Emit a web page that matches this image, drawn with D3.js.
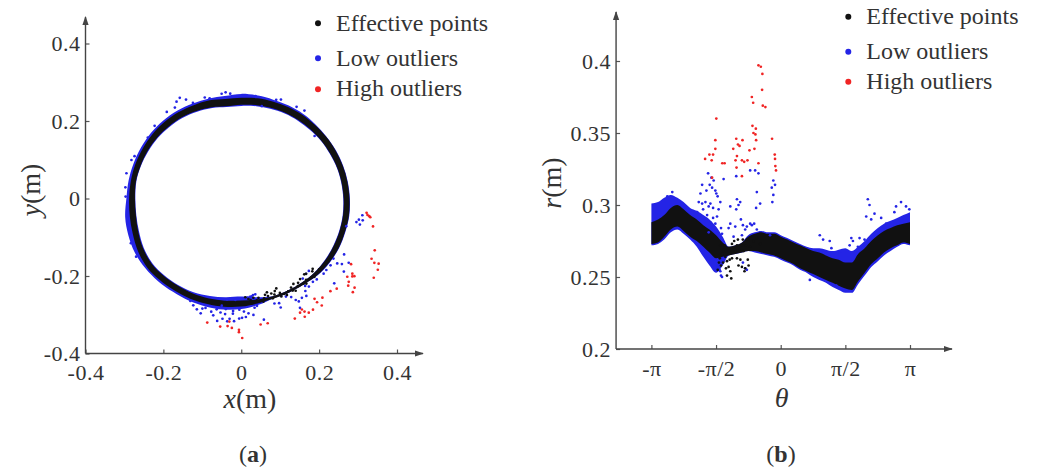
<!DOCTYPE html>
<html>
<head>
<meta charset="utf-8">
<script src="https://cdn.jsdelivr.net/npm/d3@7"></script>
<style>
  html, body { margin: 0; padding: 0; background: #fff; }
  svg { display: block; }
  text { font-family: "Liberation Serif", "Times New Roman", serif; fill: #333; }
</style>
</head>
<body>
<svg id="chart" width="1042" height="470"></svg>
<script>
// ---- Scan radius profile r(theta): sample angles (rad) ----
const bandTheta = [-3.1416, -2.98, -2.83, -2.67, -2.51, -2.36, -2.20, -2.04, -1.88, -1.73,
                   -1.57, -1.41, -1.26, -1.10, -0.94, -0.79, -0.63, -0.47, -0.31, -0.16,
                    0.00, 0.16, 0.31, 0.47, 0.63, 0.79, 0.94, 1.10, 1.26, 1.41,
                    1.57, 1.73, 1.88, 2.04, 2.20, 2.36, 2.51, 2.67, 2.83, 2.98, 3.1416];

// Effective points: lower / upper edge of the dense band (m)
const effLo = [0.273, 0.274, 0.278, 0.283, 0.285, 0.282, 0.278, 0.275, 0.271, 0.267,
               0.263, 0.264, 0.265, 0.266, 0.267, 0.268, 0.268, 0.267, 0.266, 0.265,
               0.263, 0.261, 0.259, 0.256, 0.254, 0.252, 0.250, 0.248, 0.246, 0.244,
               0.242, 0.241, 0.247, 0.253, 0.259, 0.263, 0.267, 0.270, 0.272, 0.274, 0.273];
const effHi = [0.288, 0.290, 0.293, 0.298, 0.300, 0.297, 0.293, 0.290, 0.286, 0.283,
               0.279, 0.274, 0.271, 0.272, 0.274, 0.278, 0.280, 0.281, 0.280, 0.280,
               0.278, 0.276, 0.274, 0.272, 0.270, 0.268, 0.267, 0.265, 0.263, 0.262,
               0.260, 0.260, 0.266, 0.270, 0.275, 0.279, 0.282, 0.284, 0.286, 0.287, 0.288];

// Low outliers: extent of the dense fringe around the band (m)
const lowLo = [0.272, 0.273, 0.276, 0.281, 0.283, 0.280, 0.276, 0.271, 0.264, 0.258,
               0.253, 0.258, 0.265, 0.266, 0.267, 0.268, 0.267, 0.266, 0.265, 0.264,
               0.262, 0.260, 0.258, 0.255, 0.253, 0.250, 0.248, 0.246, 0.243, 0.241,
               0.239, 0.239, 0.245, 0.251, 0.257, 0.261, 0.265, 0.268, 0.271, 0.273, 0.272];
const lowHi = [0.301, 0.302, 0.305, 0.307, 0.305, 0.302, 0.298, 0.296, 0.293, 0.290,
               0.285, 0.278, 0.271, 0.272, 0.274, 0.279, 0.281, 0.282, 0.281, 0.281,
               0.279, 0.277, 0.275, 0.273, 0.271, 0.270, 0.270, 0.269, 0.268, 0.269,
               0.270, 0.268, 0.271, 0.275, 0.280, 0.284, 0.287, 0.289, 0.291, 0.293, 0.295];

// Isolated effective points in the sparse stretch: [theta, r]
const effScatter = [
  [-1.53, 0.255], [-1.50, 0.260], [-1.467, 0.272], [-1.45, 0.258], [-1.42, 0.266],
  [-1.387, 0.269], [-1.36, 0.272], [-1.346, 0.264], [-1.305, 0.261], [-1.305, 0.251],
  [-1.266, 0.257], [-1.266, 0.270], [-1.225, 0.254], [-1.201, 0.249], [-1.184, 0.263],
  [-1.184, 0.273], [-1.15, 0.270], [-1.104, 0.268], [-1.063, 0.263], [-1.063, 0.272],
  [-1.025, 0.258], [-1.00, 0.269], [-0.942, 0.257], [-0.942, 0.272], [-0.90, 0.268],
  [-0.880, 0.254], [-0.863, 0.256], [-0.85, 0.272], [-0.822, 0.276], [-0.742, 0.271],
  [-0.662, 0.275], [-0.580, 0.277], [-0.500, 0.273], [-1.48, 0.263], [-1.40, 0.260],
  [-1.33, 0.256], [-1.24, 0.262], [-1.13, 0.275], [-1.04, 0.276], [-0.98, 0.262],
  [-0.92, 0.276], [-0.80, 0.262], [-0.78, 0.258]
];

// Isolated low outliers: [theta, r]
const lowOutliers = [
  [-2.755, 0.306], [-2.634, 0.309],
  [-2.030, 0.295], [-1.991, 0.302], [-1.950, 0.308], [-1.909, 0.314], [-1.909, 0.301],
  [-1.885, 0.297], [-1.829, 0.302], [-1.805, 0.310], [-1.788, 0.293], [-1.764, 0.322],
  [-1.750, 0.299], [-1.750, 0.281], [-1.725, 0.314], [-1.709, 0.301], [-1.709, 0.288],
  [-1.709, 0.263], [-1.684, 0.319], [-1.667, 0.312], [-1.643, 0.298], [-1.643, 0.291],
  [-1.629, 0.317], [-1.629, 0.262], [-1.588, 0.310], [-1.588, 0.287], [-1.564, 0.308],
  [-1.547, 0.292], [-1.532, 0.306], [-1.532, 0.257], [-1.508, 0.297], [-1.508, 0.256],
  [-1.484, 0.255], [-1.467, 0.302], [-1.467, 0.254], [-1.450, 0.284], [-1.450, 0.251],
  [-1.426, 0.280], [-1.426, 0.250], [-1.387, 0.318], [-1.266, 0.284], [-1.225, 0.287],
  [-1.225, 0.299], [-1.145, 0.278], [-1.104, 0.285], [-1.080, 0.320], [-1.080, 0.297],
  [-1.063, 0.304], [-1.025, 0.300], [-0.984, 0.302], [-0.967, 0.290], [-0.942, 0.279],
  [-0.918, 0.286], [-0.918, 0.260], [-0.863, 0.283], [-0.863, 0.256], [-0.822, 0.285],
  [-0.822, 0.255], [-0.742, 0.324], [-0.742, 0.287], [-0.701, 0.286], [-0.645, 0.287],
  [-0.621, 0.324], [-0.597, 0.298], [-0.580, 0.309], [-0.580, 0.283], [-0.541, 0.322],
  [-0.500, 0.301], [-0.259, 0.279], [-0.217, 0.312], [-0.203, 0.302], [-0.179, 0.317],
  [-0.179, 0.307], [-0.138, 0.314],
  [0.708, 0.248], [0.950, 0.279], [1.030, 0.276], [1.191, 0.275], [1.232, 0.270],
  [1.353, 0.244], [1.433, 0.267], [1.675, 0.272], [1.716, 0.277], [1.755, 0.275],
  [1.875, 0.271], [1.916, 0.277], [2.037, 0.276], [2.078, 0.292], [2.117, 0.304],
  [2.158, 0.300], [2.199, 0.290], [2.279, 0.294], [2.441, 0.291], [2.561, 0.287],
  [2.762, 0.295], [2.803, 0.299], [2.924, 0.302], [3.045, 0.299], [3.125, 0.297]
];

// High outliers: [theta, r]
const highOutliers = [
  [-0.541, 0.397], [-0.483, 0.396], [-0.445, 0.391], [-0.452, 0.380], [-0.701, 0.375],
  [-0.669, 0.371], [-0.435, 0.369], [-0.372, 0.368], [-1.564, 0.360], [-0.686, 0.355],
  [-0.604, 0.353], [-0.662, 0.350], [-0.614, 0.349], [-1.080, 0.346], [-0.928, 0.345],
  [-1.588, 0.345], [-0.597, 0.345], [-0.210, 0.346], [-1.039, 0.342], [-1.000, 0.341],
  [-1.588, 0.339], [-1.153, 0.339], [-0.638, 0.339], [-0.759, 0.338], [-1.643, 0.335],
  [-1.733, 0.335], [-0.145, 0.335], [-1.063, 0.334], [-1.837, 0.332], [-1.677, 0.331],
  [-1.097, 0.331], [-0.942, 0.331], [-0.138, 0.332], [-1.419, 0.329], [-1.363, 0.329],
  [-0.887, 0.330], [-0.807, 0.331], [-0.541, 0.329], [-1.073, 0.326], [-0.130, 0.327],
  [-0.942, 0.320], [-1.667, 0.319], [-0.114, 0.324]
];

// Axis ticks and labels
const aTicks = [-0.4, -0.2, 0, 0.2, 0.4];
const aTickLabels = ["-0.4", "-0.2", "0", "0.2", "0.4"];
const bTicksX = [-Math.PI, -Math.PI / 2, 0, Math.PI / 2, Math.PI];
const bTickLabelsX = ["-\u03C0", "-\u03C0/2", "0", "\u03C0/2", "\u03C0"];
const bTicksY = [0.2, 0.25, 0.3, 0.35, 0.4];
const bTickLabelsY = ["0.2", "0.25", "0.3", "0.35", "0.4"];

const legendItems = ["Effective points", "Low outliers", "High outliers"];
const COLORS = { eff: "#111111", low: "#2424e6", high: "#f02424" };
const legendColors = [COLORS.eff, COLORS.low, COLORS.high];

// ---- drawing ----
const svg = d3.select("#chart");
const defs = svg.append("defs");
defs.append("marker").attr("id", "arrow")
  .attr("viewBox", "0 0 10 10").attr("refX", 9).attr("refY", 5)
  .attr("markerWidth", 9).attr("markerHeight", 9).attr("markerUnits", "userSpaceOnUse")
  .attr("orient", "auto")
  .append("path").attr("d", "M0,1.5 L10,5 L0,8.5 Z").attr("fill", "#444");

const rows = bandTheta.map((t, i) => ({
  t, lo: effLo[i], hi: effHi[i], blo: lowLo[i], bhi: lowHi[i]
}));

// Panel (a) scales: Cartesian x, y (m)
const ax = d3.scaleLinear().domain([-0.4, 0.4]).range([85.5, 397]);
const ay = d3.scaleLinear().domain([-0.4, 0.4]).range([353.5, 43.5]);
// Panel (b) scales: theta (rad), r (m)
const bx = d3.scaleLinear().domain([-Math.PI, Math.PI]).range([651.4, 910]);
const by = d3.scaleLinear().domain([0.2, 0.4]).range([349, 61]);

function drawAxes(g, xs, ys, xTicks, xLabels, yTicks, yLabels, xEnd, yEnd, x0, y0) {
  const ox = xs(x0), oy = ys(y0);
  const xa = d3.axisBottom(xs).tickValues(xTicks)
    .tickFormat((d, i) => xLabels[i]).tickSizeInner(-4).tickSizeOuter(0).tickPadding(11);
  const ya = d3.axisLeft(ys).tickValues(yTicks)
    .tickFormat((d, i) => yLabels[i]).tickSizeInner(-4).tickSizeOuter(0).tickPadding(5);
  const gx = g.append("g").attr("transform", `translate(0,${oy})`).call(xa);
  const gy = g.append("g").attr("transform", `translate(${ox},0)`).call(ya);
  [gx, gy].forEach(s => {
    s.attr("font-family", null);
    s.select(".domain").remove();
    s.selectAll(".tick line").attr("stroke", "#555").attr("stroke-width", 1.2);
    s.selectAll(".tick text").style("font-family", "'Liberation Serif', 'Times New Roman', serif")
      .attr("font-size", 22).attr("fill", "#333").style("letter-spacing", "0.5px");
  });
  g.append("line").attr("x1", ox).attr("y1", oy).attr("x2", xEnd).attr("y2", oy)
    .attr("stroke", "#444").attr("stroke-width", 1.4).attr("marker-end", "url(#arrow)");
  g.append("line").attr("x1", ox).attr("y1", oy).attr("x2", ox).attr("y2", yEnd)
    .attr("stroke", "#444").attr("stroke-width", 1.4).attr("marker-end", "url(#arrow)");
}

function drawLegend(g, x, yDots, yText) {
  legendItems.forEach((name, i) => {
    g.append("circle").attr("cx", x).attr("cy", yDots[i]).attr("r", 3)
      .attr("fill", legendColors[i]);
    g.append("text").attr("x", x + 18).attr("y", yText[i])
      .attr("font-size", 24).attr("fill", "#222").text(name);
  });
}

// ---------- Panel (b): r versus theta ----------
const gb = svg.append("g");
const bandB = (loKey, hiKey) => d3.area()
  .x(d => bx(d.t)).y0(d => by(d[loKey])).y1(d => by(d[hiKey]))
  .curve(d3.curveMonotoneX);

gb.append("path").attr("d", bandB("blo", "bhi")(rows)).attr("fill", COLORS.low);
gb.append("path").attr("d", bandB("lo", "hi")(rows)).attr("fill", COLORS.eff);

function dotsB(data, color) {
  gb.append("g").selectAll("circle").data(data).join("circle")
    .attr("cx", d => bx(d[0])).attr("cy", d => by(d[1])).attr("r", 1.35).attr("fill", color);
}
dotsB(lowOutliers, COLORS.low);
dotsB(effScatter, COLORS.eff);
dotsB(highOutliers, COLORS.high);

drawAxes(gb, bx, by, bTicksX, bTickLabelsX, bTicksY, bTickLabelsY, 952, 12, -4, 0.2);
drawLegend(gb, 848.3, [16.7, 51.7, 81.7], [24, 59, 89]);

gb.append("text").attr("transform", "translate(561,183) rotate(-90)")
  .attr("text-anchor", "middle").attr("font-size", 28)
  .call(t => { t.append("tspan").attr("font-style", "italic").text("r");
               t.append("tspan").text("(m)"); });
gb.append("text").attr("x", 781.7).attr("y", 407).attr("text-anchor", "middle")
  .attr("font-size", 28).attr("font-style", "italic").text("\u03B8");
gb.append("text").attr("x", 781).attr("y", 462).attr("text-anchor", "middle")
  .attr("font-size", 24).attr("fill", "#111")
  .call(t => { t.append("tspan").text("(");
               t.append("tspan").attr("font-weight", "bold").text("b");
               t.append("tspan").text(")"); });

// ---------- Panel (a): same scan in Cartesian coordinates ----------
const ga = svg.append("g");
const toXY = (t, r) => [ax(r * Math.cos(t)), ay(r * Math.sin(t))];

// one lap of the profile (theta = -pi duplicates theta = +pi)
const lap = rows.slice(1);
function ringPath(loKey, hiKey) {
  const closed = d3.line().curve(d3.curveCatmullRomClosed);
  const outer = lap.map(d => toXY(d.t, d[hiKey]));
  const inner = lap.map(d => toXY(d.t, d[loKey]));
  return closed(outer) + closed(inner);
}
ga.append("path").attr("d", ringPath("blo", "bhi")).attr("fill", COLORS.low)
  .attr("fill-rule", "evenodd");
ga.append("path").attr("d", ringPath("lo", "hi")).attr("fill", COLORS.eff)
  .attr("fill-rule", "evenodd");

function dotsA(data, color) {
  ga.append("g").selectAll("circle").data(data).join("circle")
    .attr("cx", d => toXY(d[0], d[1])[0]).attr("cy", d => toXY(d[0], d[1])[1])
    .attr("r", 1.35).attr("fill", color);
}
dotsA(lowOutliers, COLORS.low);
dotsA(effScatter, COLORS.eff);
dotsA(highOutliers, COLORS.high);

drawAxes(ga, ax, ay, aTicks, aTickLabels, aTicks, aTickLabels, 423, 17, -0.4, -0.4);
drawLegend(ga, 318, [23.3, 58.3, 89.3], [31, 65.5, 96]);

ga.append("text").attr("transform", "translate(40,190) rotate(-90)")
  .attr("text-anchor", "middle").attr("font-size", 28)
  .call(t => { t.append("tspan").attr("font-style", "italic").text("y");
               t.append("tspan").text("(m)"); });
ga.append("text").attr("x", 250).attr("y", 408).attr("text-anchor", "middle")
  .attr("font-size", 28)
  .call(t => { t.append("tspan").attr("font-style", "italic").text("x");
               t.append("tspan").text("(m)"); });
ga.append("text").attr("x", 253).attr("y", 462).attr("text-anchor", "middle")
  .attr("font-size", 24).attr("fill", "#111")
  .call(t => { t.append("tspan").text("(");
               t.append("tspan").attr("font-weight", "bold").text("a");
               t.append("tspan").text(")"); });
</script>
</body>
</html>
